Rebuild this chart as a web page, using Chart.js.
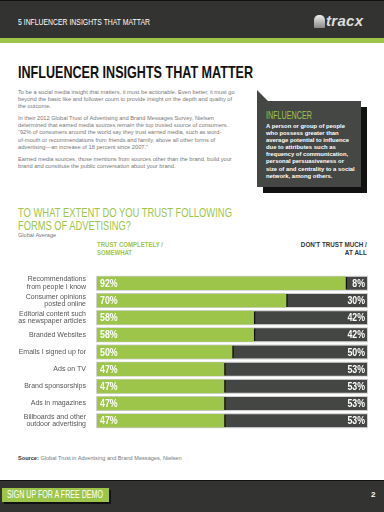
<!DOCTYPE html>
<html>
<head>
<meta charset="utf-8">
<script src="https://cdn.jsdelivr.net/npm/chart.js@4.4.1/dist/chart.umd.min.js"></script>
<style>
  html, body { margin: 0; padding: 0; background: #fff; }
  body { width: 384px; height: 512px; position: relative; overflow: hidden; font-family: 'Liberation Sans', Arial, sans-serif; }
  .abs { position: absolute; white-space: nowrap; }
  .fit { display: inline-block; transform-origin: 0 0; }
  .fit.r { transform-origin: 100% 0; }
  #topbar { left: 0; top: 0; width: 384px; height: 38px; background: #333431; border-top: 1px solid #111; box-sizing: border-box; }
  #topline { left: 0; top: 38px; width: 384px; height: 5px; background: #9cc54a; }
  #bottombar { left: 0; top: 480px; width: 384px; height: 32px; background: #333431; border-top: 1px solid #111; box-sizing: border-box; }
  #demo { left: 2px; top: 488px; width: 107px; height: 14px; background: #9cc54a; box-shadow: 2px 2px 0 #111; }
  .body-text p { margin: 0 0 5px 0; }
</style>
</head>
<body>
<div id="topbar" class="abs"></div>
<div id="topline" class="abs"></div>
<div class="abs fit" data-w="132" style="left:18px;top:17px;font-size:8.5px;color:#fff;">5 INFLUENCER INSIGHTS THAT MATTAR</div>
<div class="abs" style="left:314px;top:15px;width:11px;height:13px;background:linear-gradient(#eee,#888);border-radius:5px 5px 1px 1px;"></div>
<div class="abs" style="left:326px;top:12px;font-size:15px;font-weight:bold;font-style:italic;color:#ddd;letter-spacing:0.3px;">tracx</div>

<div class="abs fit" data-w="235" style="left:18px;top:63px;font-size:17px;font-weight:bold;color:#111;">INFLUENCER INSIGHTS THAT MATTER</div>

<div class="abs body-text" style="left:18px;top:89px;font-size:5.7px;line-height:7.1px;color:#777;">
  <p>To be a social media insight that matters, it must be actionable. Even better, it must go<br>beyond the basic like and follower count to provide insight on the depth and quality of<br>the outcome.</p>
  <p>In their 2012 Global Trust of Advertising and Brand Messages Survey, Nielsen<br>determined that earned media sources remain the top trusted source of consumers.<br>“92% of consumers around the world say they trust earned media, such as word-<br>of-mouth or recommendations from friends and family, above all other forms of<br>advertising—an increase of 18 percent since 2007.”</p>
  <p>Earned media sources, those mentions from sources other than the brand, build your<br>brand and constitute the public conversation about your brand.</p>
</div>

<div class="abs" style="left:263px;top:107px;width:104px;height:86px;background:#111;"></div>
<div class="abs" style="left:257px;top:90px;width:104px;height:97px;background:#454745;clip-path:polygon(0 0, 11px 11px, 100% 11px, 100% 100%, 0 100%);"></div>
<div class="abs fit" data-w="46" style="left:266px;top:109px;font-size:11px;color:#9cc54a;">INFLUENCER</div>
<div class="abs" style="left:266px;top:123px;font-size:5.9px;line-height:7.1px;font-weight:bold;color:#fff;">A person or group of people<br>who possess greater than<br>average potential to influence<br>due to attributes such as<br>frequency of communication,<br>personal persuasiveness or<br>size of and centrality to a social<br>network, among others.</div>

<div class="abs fit" data-w="214" style="left:18px;top:205px;font-size:13px;color:#9cc54a;">TO WHAT EXTENT DO YOU TRUST FOLLOWING</div>
<div class="abs fit" data-w="113" style="left:18px;top:218px;font-size:13px;color:#9cc54a;">FORMS OF ADVETISING?</div>
<div class="abs" style="left:18px;top:232px;font-size:5.6px;color:#777;">Global Average</div>
<div class="abs fit" data-w="66" style="left:97px;top:240px;font-size:7.5px;font-weight:bold;color:#9cc54a;">TRUST COMPLETELY /</div>
<div class="abs fit" data-w="35" style="left:97px;top:248px;font-size:7.5px;font-weight:bold;color:#9cc54a;">SOMEWHAT</div>
<div class="abs fit r" data-w="66" style="right:17px;top:240px;font-size:7.5px;font-weight:bold;color:#333;">DON'T TRUST MUCH /</div>
<div class="abs fit r" data-w="22" style="right:17px;top:248px;font-size:7.5px;font-weight:bold;color:#333;">AT ALL</div>

<canvas id="trustChart" class="abs" width="384" height="192" style="left:0;top:256px;"></canvas>

<div class="abs" style="left:18px;top:455px;font-size:5.6px;color:#777;"><b style="color:#333;">Source:</b> Global Trust in Advertising and Brand Messages, Nielsen</div>

<div id="bottombar" class="abs"></div>
<div id="demo" class="abs"></div>
<div class="abs fit" data-w="96" style="left:7px;top:489px;font-size:10px;color:#fff;">SIGN UP FOR A FREE DEMO</div>
<div class="abs" style="left:371px;top:490px;font-size:8px;font-weight:bold;color:#fff;">2</div>

<script>
// squeeze the headline texts to the condensed widths of the original
document.querySelectorAll('.fit').forEach(el => {
    const w = el.getBoundingClientRect().width;
    const target = parseFloat(el.dataset.w);
    el.style.transform = 'scaleX(' + (target / w).toFixed(3) + ')';
});

const categories = [
    ['Recommendations', 'from people I know'],
    ['Consumer opinions', 'posted online'],
    ['Editorial content such', 'as newspaper articles'],
    'Branded Websites',
    'Emails I signed up for',
    'Ads on TV',
    'Brand sponsorships',
    'Ads in magazines',
    ['Billboards and other', 'outdoor advertising']
];
const trustValues = [92, 70, 58, 58, 50, 47, 47, 47, 47];
const distrustValues = [8, 30, 42, 42, 50, 53, 53, 53, 53];

const green = '#9cc54a';
const dark = '#444643';

// light grey outline behind each full bar
const barOutline = {
    id: 'barOutline',
    beforeDatasetsDraw(chart) {
        const ctx = chart.ctx;
        const a = chart.getDatasetMeta(0).data;
        const b = chart.getDatasetMeta(1).data;
        ctx.save();
        ctx.fillStyle = '#d2d2d2';
        a.forEach((bar, i) => {
            const h = bar.height;
            ctx.fillRect(bar.base - 1, bar.y - h / 2 - 1, b[i].x - bar.base + 2, h + 2);
        });
        ctx.restore();
    }
};

// percent labels inside the bars, drawn narrow
function narrowText(ctx, text, x, y, align) {
    const sx = 0.8;
    ctx.save();
    ctx.translate(x, y);
    ctx.scale(sx, 1);
    ctx.textAlign = align;
    ctx.fillText(text, 0, 0);
    ctx.restore();
}
const valueLabels = {
    id: 'valueLabels',
    afterDatasetsDraw(chart) {
        const ctx = chart.ctx;
        ctx.save();
        ctx.fillStyle = '#fff';
        ctx.font = "bold 11px 'Liberation Sans', Arial, sans-serif";
        ctx.textBaseline = 'middle';
        chart.getDatasetMeta(0).data.forEach((bar, i) => {
            narrowText(ctx, trustValues[i] + '%', bar.base + 3, bar.y + 0.5, 'left');
        });
        chart.getDatasetMeta(1).data.forEach((bar, i) => {
            narrowText(ctx, distrustValues[i] + '%', bar.x - 2, bar.y + 0.5, 'right');
        });
        ctx.restore();
    }
};

const ctx = document.getElementById('trustChart').getContext('2d');
const trustChart = new Chart(ctx, {
    type: 'bar',
    data: {
        labels: categories,
        datasets: [{
            label: 'Trust completely / somewhat',
            data: trustValues,
            backgroundColor: green,
            borderWidth: 0,
            barThickness: 13
        }, {
            label: "Don't trust much / at all",
            data: distrustValues,
            backgroundColor: dark,
            borderColor: '#111',
            borderWidth: { left: 2, top: 0, right: 0, bottom: 0 },
            borderSkipped: false,
            barThickness: 13
        }]
    },
    options: {
        indexAxis: 'y',
        responsive: false,
        animation: false,
        layout: { padding: { left: 0, right: 17, top: 0, bottom: 0 } },
        plugins: {
            legend: { display: false },
            tooltip: { enabled: false }
        },
        scales: {
            x: {
                stacked: true,
                min: 0,
                max: 100,
                display: false
            },
            y: {
                stacked: true,
                grid: { display: false, drawTicks: false },
                border: { display: false },
                ticks: {
                    padding: 11,
                    color: '#555',
                    font: { family: "'Liberation Sans', Arial, sans-serif", size: 7, lineHeight: 1.1 }
                },
                afterFit(scale) { scale.width = 97; }
            }
        }
    },
    plugins: [barOutline, valueLabels]
});
</script>
</body>
</html>
